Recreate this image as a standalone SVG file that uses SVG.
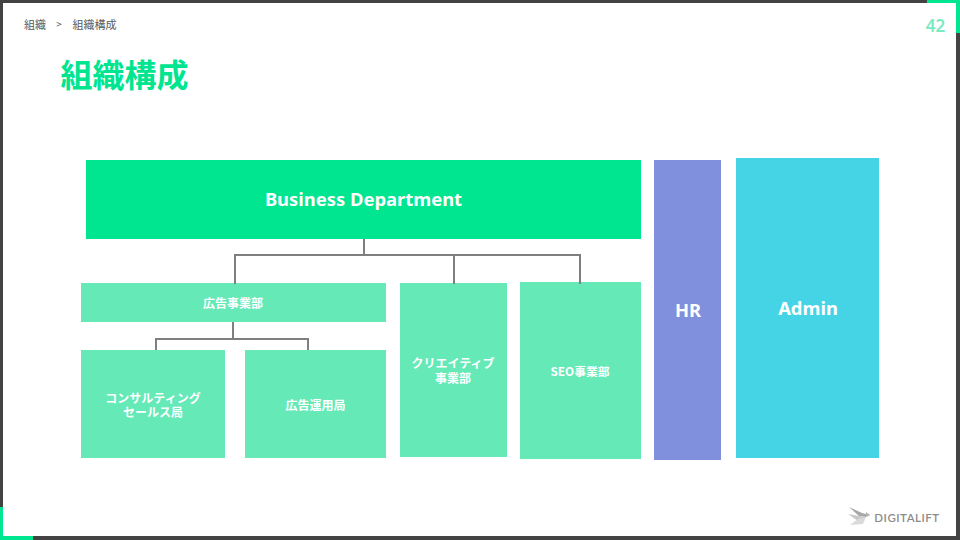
<svg xmlns="http://www.w3.org/2000/svg" width="960" height="540" viewBox="0 0 960 540">
<style>
text{font-family:"Noto Sans CJK JP","Noto Sans",sans-serif;text-anchor:middle}
.l{fill:#65e9b7}
.t{fill:#fff;font-weight:700;font-size:12px}
.w{fill:#fff;font-weight:700;font-size:18.400px;font-family:"Noto Sans","Noto Sans CJK JP",sans-serif}
.c{fill:none;stroke:#7f7f7f;stroke-width:2}
.b{fill:#595959;font-size:11px}
</style>
<rect width="960" height="540" fill="#fff"/>
<g id="frame"><path d="M0 0H960V540H0ZM3 3V536H956V3Z" fill="#434343" fill-rule="evenodd"/>
<path d="M927 0H960V33H956V3H927ZM0 507H3V536H33V540H0Z" fill="#00e58f"/></g>
<g id="header"><text class="b" x="35" y="29">組織</text><text class="b" x="59" y="28" style="font-size:10px">&gt;</text><text class="b" x="94.500" y="29">組織構成</text>
<text x="124.500" y="87" fill="#00e58f" font-size="32" font-weight="700">組織構成</text>
<text x="935.500" y="32" fill="#79ebc0" font-size="17" font-weight="600" style="font-family:'Noto Sans',sans-serif">42</text></g>
<g id="business"><rect x="86" y="160" width="555" height="79" fill="#00e58f"/><text class="w" x="363.500" y="205.500">Business Department</text></g>
<g id="hr"><rect x="654" y="160" width="67" height="300" fill="#8190dc"/><text class="w" x="688" y="317">HR</text></g>
<g id="admin"><rect x="736" y="158" width="143" height="300" fill="#45d4e6"/><text class="w" x="808" y="315">Admin</text></g>
<g id="ad"><rect class="l" x="81" y="283" width="305" height="39"/><text class="t" x="233" y="308">広告事業部</text></g>
<g id="creative"><rect class="l" x="400" y="283" width="107" height="174"/><text class="t"><tspan x="453" y="368">クリエイティブ</tspan><tspan x="453" y="383">事業部</tspan></text></g>
<g id="seo"><rect class="l" x="520" y="282" width="121" height="177"/><text class="t" x="580" y="376" style="font-size:11.800px">SEO事業部</text></g>
<g id="consulting"><rect class="l" x="81" y="350" width="144" height="108"/><text class="t"><tspan x="153" y="403">コンサルティング</tspan><tspan x="153" y="417">セールス局</tspan></text></g>
<g id="operation"><rect class="l" x="245" y="350" width="141" height="108"/><text class="t" x="315.500" y="410">広告運用局</text></g>
<g id="connectors"><path class="c" d="M364 239V255M235 284V255H580V284M454 255V284M233 322V339M156 350V339H308V350"/></g>
<g id="logo"><path d="M849 507L862 513L870 515L866 517L859 516Z" fill="#a8a8a8"/><path d="M848 514L859 516L866 517L858 521Z" fill="#c9c9c9"/><path d="M850 525L858 519L866 517L863 524Z" fill="#dadada"/><path d="M866 512L870 515L866 517Z" fill="#b5b5b5"/>
<text x="907" y="522" fill="#8c8c8c" font-size="11.500" font-weight="600" letter-spacing=".5" style="font-family:Lato,sans-serif">DIGITALIFT</text></g>
</svg>
